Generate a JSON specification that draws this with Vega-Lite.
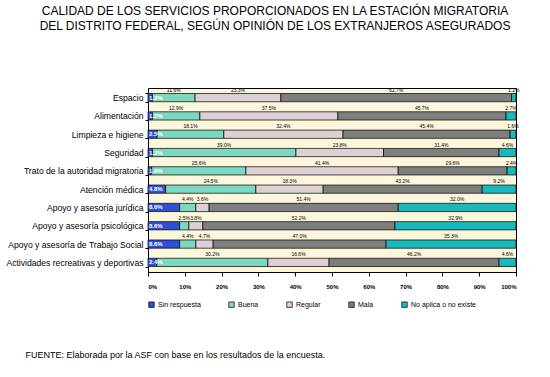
{
  "$schema": "https://vega.github.io/schema/vega-lite/v6.json",
  "width": 368,
  "height": 184,
  "autosize": "none",
  "padding": {"left": 148, "top": 88, "right": 34, "bottom": 105},
  "background": "white",
  "config": {
    "font": "Liberation Sans",
    "view": {"fill": "#fcf7dc", "stroke": "black", "strokeWidth": 1},
    "axisX": {
      "labelOverlap": false,
      "tickCount": 10,
      "format": ".0%",
      "labelFontSize": 6,
      "labelFontWeight": "bold",
      "labelColor": "black",
      "grid": false,
      "tickSize": 4,
      "labelPadding": 7,
      "domainColor": "black",
      "tickColor": "black",
      "titleFontSize": 9,
      "titleFontWeight": "normal",
      "titleColor": "black",
      "titleAnchor": "start",
      "titleAlign": "left",
      "titleX": -123,
      "titleY": 82,
      "titleBaseline": "middle"
    }
  },
  "title": {
    "text": ["CALIDAD DE LOS SERVICIOS PROPORCIONADOS EN LA ESTACIÓN MIGRATORIA", "DEL DISTRITO FEDERAL, SEGÚN OPINIÓN DE LOS EXTRANJEROS ASEGURADOS"],
    "fontSize": 12,
    "fontWeight": "normal",
    "anchor": "middle",
    "dx": -57,
    "offset": 51,
    "lineHeight": 15,
    "color": "black"
  },
  "data": {
    "values": [
      {"c": "Espacio", "s": "Sin respuesta", "k": 0, "v": 0.012},
      {"c": "Espacio", "s": "Buena", "k": 1, "v": 0.116},
      {"c": "Espacio", "s": "Regular", "k": 2, "v": 0.233},
      {"c": "Espacio", "s": "Mala", "k": 3, "v": 0.627},
      {"c": "Espacio", "s": "No aplica o no existe", "k": 4, "v": 0.012},
      {"c": "Alimentación", "s": "Sin respuesta", "k": 0, "v": 0.012},
      {"c": "Alimentación", "s": "Buena", "k": 1, "v": 0.129},
      {"c": "Alimentación", "s": "Regular", "k": 2, "v": 0.375},
      {"c": "Alimentación", "s": "Mala", "k": 3, "v": 0.457},
      {"c": "Alimentación", "s": "No aplica o no existe", "k": 4, "v": 0.027},
      {"c": "Limpieza e higiene", "s": "Sin respuesta", "k": 0, "v": 0.025},
      {"c": "Limpieza e higiene", "s": "Buena", "k": 1, "v": 0.181},
      {"c": "Limpieza e higiene", "s": "Regular", "k": 2, "v": 0.324},
      {"c": "Limpieza e higiene", "s": "Mala", "k": 3, "v": 0.454},
      {"c": "Limpieza e higiene", "s": "No aplica o no existe", "k": 4, "v": 0.016},
      {"c": "Seguridad", "s": "Sin respuesta", "k": 0, "v": 0.012},
      {"c": "Seguridad", "s": "Buena", "k": 1, "v": 0.39},
      {"c": "Seguridad", "s": "Regular", "k": 2, "v": 0.238},
      {"c": "Seguridad", "s": "Mala", "k": 3, "v": 0.314},
      {"c": "Seguridad", "s": "No aplica o no existe", "k": 4, "v": 0.046},
      {"c": "Trato de la autoridad migratoria", "s": "Sin respuesta", "k": 0, "v": 0.01},
      {"c": "Trato de la autoridad migratoria", "s": "Buena", "k": 1, "v": 0.256},
      {"c": "Trato de la autoridad migratoria", "s": "Regular", "k": 2, "v": 0.414},
      {"c": "Trato de la autoridad migratoria", "s": "Mala", "k": 3, "v": 0.296},
      {"c": "Trato de la autoridad migratoria", "s": "No aplica o no existe", "k": 4, "v": 0.024},
      {"c": "Atención médica", "s": "Sin respuesta", "k": 0, "v": 0.048},
      {"c": "Atención médica", "s": "Buena", "k": 1, "v": 0.245},
      {"c": "Atención médica", "s": "Regular", "k": 2, "v": 0.183},
      {"c": "Atención médica", "s": "Mala", "k": 3, "v": 0.432},
      {"c": "Atención médica", "s": "No aplica o no existe", "k": 4, "v": 0.092},
      {"c": "Apoyo y asesoría jurídica", "s": "Sin respuesta", "k": 0, "v": 0.086},
      {"c": "Apoyo y asesoría jurídica", "s": "Buena", "k": 1, "v": 0.044},
      {"c": "Apoyo y asesoría jurídica", "s": "Regular", "k": 2, "v": 0.036},
      {"c": "Apoyo y asesoría jurídica", "s": "Mala", "k": 3, "v": 0.514},
      {"c": "Apoyo y asesoría jurídica", "s": "No aplica o no existe", "k": 4, "v": 0.32},
      {"c": "Apoyo y asesoría psicológica", "s": "Sin respuesta", "k": 0, "v": 0.086},
      {"c": "Apoyo y asesoría psicológica", "s": "Buena", "k": 1, "v": 0.025},
      {"c": "Apoyo y asesoría psicológica", "s": "Regular", "k": 2, "v": 0.038},
      {"c": "Apoyo y asesoría psicológica", "s": "Mala", "k": 3, "v": 0.522},
      {"c": "Apoyo y asesoría psicológica", "s": "No aplica o no existe", "k": 4, "v": 0.329},
      {"c": "Apoyo y asesoría de Trabajo Social", "s": "Sin respuesta", "k": 0, "v": 0.086},
      {"c": "Apoyo y asesoría de Trabajo Social", "s": "Buena", "k": 1, "v": 0.044},
      {"c": "Apoyo y asesoría de Trabajo Social", "s": "Regular", "k": 2, "v": 0.047},
      {"c": "Apoyo y asesoría de Trabajo Social", "s": "Mala", "k": 3, "v": 0.47},
      {"c": "Apoyo y asesoría de Trabajo Social", "s": "No aplica o no existe", "k": 4, "v": 0.353},
      {"c": "Actividades recreativas y deportivas", "s": "Sin respuesta", "k": 0, "v": 0.024},
      {"c": "Actividades recreativas y deportivas", "s": "Buena", "k": 1, "v": 0.302},
      {"c": "Actividades recreativas y deportivas", "s": "Regular", "k": 2, "v": 0.166},
      {"c": "Actividades recreativas y deportivas", "s": "Mala", "k": 3, "v": 0.462},
      {"c": "Actividades recreativas y deportivas", "s": "No aplica o no existe", "k": 4, "v": 0.046}
    ]
  },
  "encoding": {
    "y": {
      "field": "c",
      "type": "nominal",
      "sort": null,
      "scale": {"paddingInner": 0.55, "paddingOuter": 0.3},
      "axis": {
        "title": null,
        "labelFontSize": 8.6,
        "labelColor": "black",
        "labelLimit": 200,
        "tickSize": 3,
        "labelPadding": 2,
        "domainColor": "black",
        "tickColor": "black",
        "grid": false,
        "tickBand": "extent"
      }
    }
  },
  "layer": [
    {
      "mark": {"type": "bar", "stroke": "black", "strokeWidth": 0.7},
      "encoding": {
        "x": {
          "field": "v",
          "type": "quantitative",
          "stack": "zero",
          "scale": {"domain": [0, 1]},
          "title": "FUENTE: Elaborada por la ASF con base en los resultados de la encuesta."
        },
        "color": {
          "field": "s",
          "type": "nominal",
          "scale": {
            "domain": ["Sin respuesta", "Buena", "Regular", "Mala", "No aplica o no existe"],
            "range": ["#2e4fd6", "#7cd8c0", "#dcd0d4", "#7d7f7d", "#19b8bc"]
          },
          "legend": {
            "orient": "none",
            "legendX": 0,
            "legendY": 213,
            "direction": "horizontal",
            "title": null,
            "symbolType": "square",
            "symbolSize": 30,
            "symbolStrokeColor": "black",
            "symbolStrokeWidth": 0.7,
            "labelFontSize": 7,
            "labelColor": "black",
            "labelOffset": 3,
            "columnPadding": 26
          }
        },
        "order": {"field": "k"}
      }
    },
    {
      "mark": {"type": "text", "fontSize": 5, "yOffset": -8, "color": "black"},
      "encoding": {
        "x": {"field": "v", "type": "quantitative", "stack": "zero", "bandPosition": 0.5, "title": "FUENTE: Elaborada por la ASF con base en los resultados de la encuesta."},
        "detail": {"field": "s"},
        "order": {"field": "k"},
        "text": {"condition": {"test": "datum.k == 0", "value": ""}, "field": "v", "format": ".1%"}
      }
    },
    {
      "transform": [{"filter": "datum.k == 0"}],
      "mark": {"type": "text", "fontSize": 6, "align": "left", "dx": 1, "color": "white", "fontWeight": "bold"},
      "encoding": {
        "x": {"field": "v", "type": "quantitative", "stack": "zero", "bandPosition": 0, "title": "FUENTE: Elaborada por la ASF con base en los resultados de la encuesta."},
        "detail": {"field": "s"},
        "text": {"field": "v", "format": ".1%"}
      }
    }
  ]
}
